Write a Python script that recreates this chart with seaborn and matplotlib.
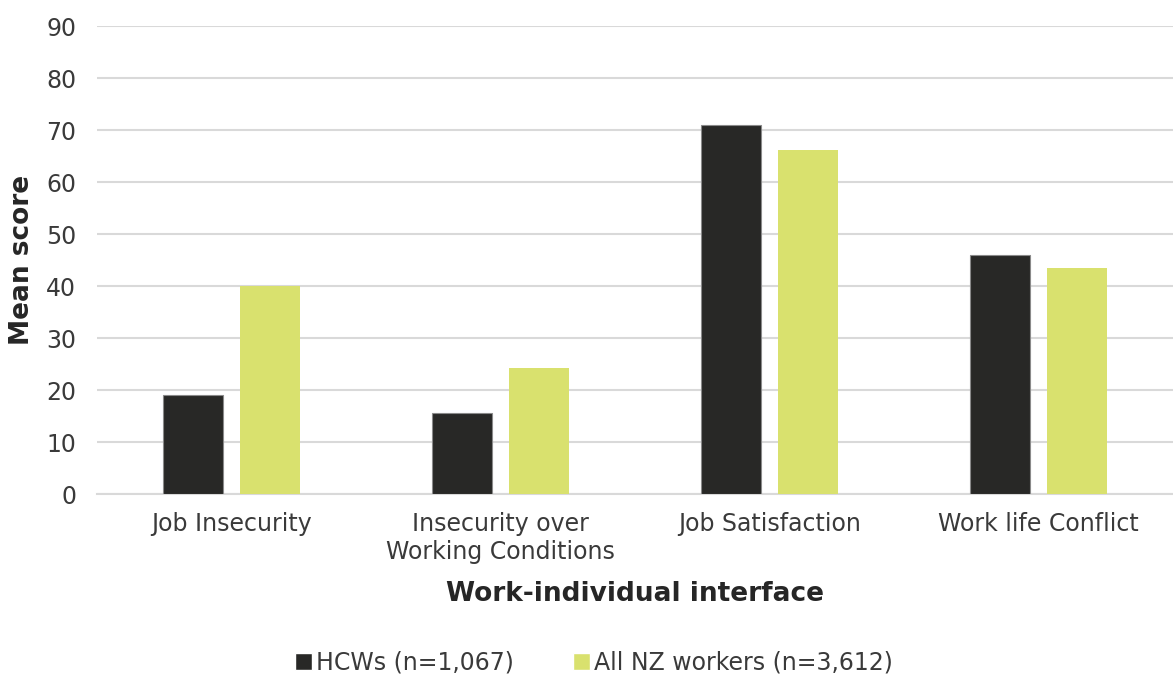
import matplotlib.pyplot as plt
import seaborn as sns
import pandas as pd

categories = ['Job Insecurity', 'Insecurity over\nWorking Conditions',
              'Job Satisfaction', 'Work life Conflict']
hcw_scores = [19.0, 15.6, 71.0, 46.0]
nz_scores = [40.0, 24.2, 66.1, 43.5]
series = ['HCWs (n=1,067)', 'All NZ workers (n=3,612)']

df = pd.DataFrame({
    'category': categories * 2,
    'score': hcw_scores + nz_scores,
    'group': [series[0]] * 4 + [series[1]] * 4,
})

sns.set_style('white')
plt.rcParams['font.family'] = ['DejaVu Sans']

fig = plt.figure(figsize=(11.73, 6.8), dpi=100)
ax = fig.add_axes([97 / 1173, 1 - 494 / 680, 1 - 97 / 1173, (494 - 26) / 680])

sns.barplot(data=df, x='category', y='score', hue='group',
            palette=['#282826', '#d9e16e'], saturation=1,
            width=0.572, gap=0.22, ax=ax, zorder=3)
for bar in ax.containers[0]:
    bar.set_edgecolor('#8a8a8a')
    bar.set_linewidth(0.8)
for bar in ax.containers[1]:
    bar.set_edgecolor('none')

ax.set_ylim(0, 90)
ax.set_yticks(range(0, 91, 10))
ax.yaxis.grid(True, color='#d9d9d9', linewidth=1.5, zorder=0)
ax.set_axisbelow(True)
for s in ['top', 'right', 'left']:
    ax.spines[s].set_visible(False)
ax.spines['bottom'].set_color('#d9d9d9')
ax.spines['bottom'].set_linewidth(1.5)
ax.tick_params(axis='both', length=0, labelsize=17, colors='#3a3a3a')
ax.tick_params(axis='y', pad=15)
ax.tick_params(axis='x', pad=13)

ax.set_xlabel('Work-individual interface', fontsize=19, fontweight='bold',
              color='#262626', labelpad=12)
ax.set_ylabel('Mean score', fontsize=19, fontweight='bold', color='#262626',
              labelpad=8)

leg = ax.legend(loc='center', bbox_to_anchor=(0.462, -0.361), ncol=2,
                frameon=False, fontsize=17, handlelength=0.7, handleheight=0.7,
                handletextpad=0.2, columnspacing=2.5, labelcolor='#3a3a3a')

fig.savefig('out.png', dpi=100)
